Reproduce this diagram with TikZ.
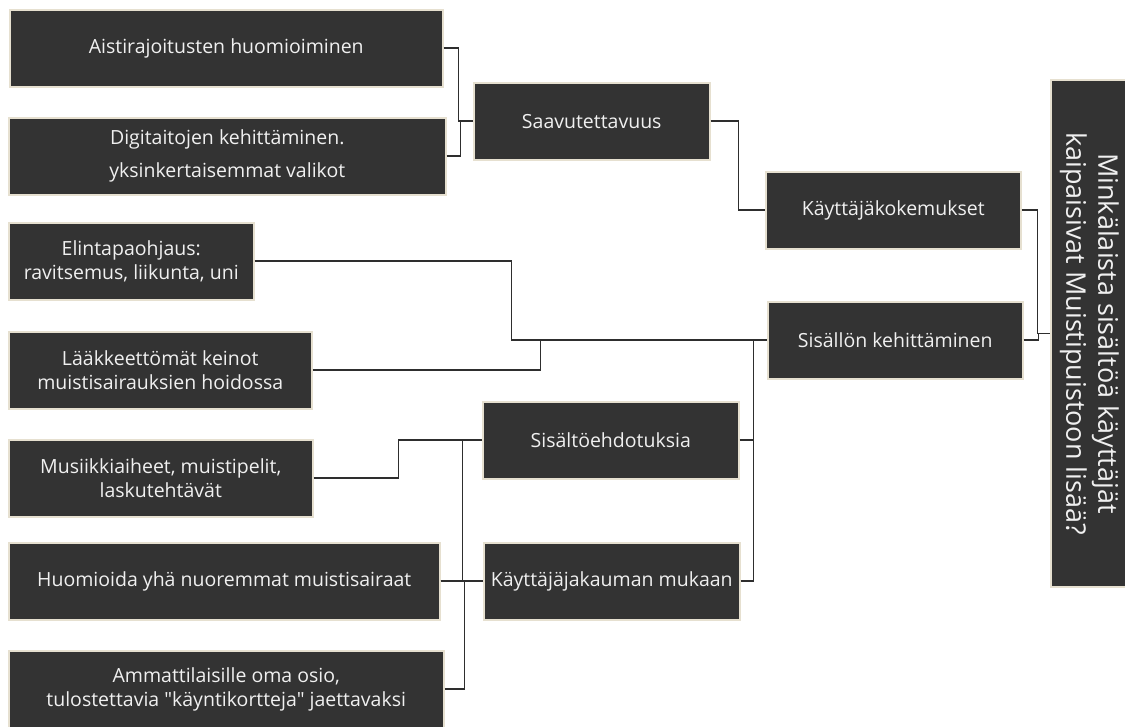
\documentclass[tikz,border=0pt]{standalone}
\usepackage{fontspec}
\setmainfont{Open Sans}[Ligatures={NoCommon,TeXOff}]
\usetikzlibrary{calc}
\definecolor{boxgrey}{HTML}{333333}
\definecolor{rimbeige}{HTML}{E6E0D0}
\definecolor{wirecol}{HTML}{2E2E2E}
\newcommand\elbow[3]{% a, b, offset
  \draw (#1) -- ++(#3,0) |- (#2);
}

\begin{document}
\begin{tikzpicture}[x=1pt,y=-1pt]
		\tikzstyle{every path}=[line width=1.8pt,color=wirecol]
		\tikzstyle{boxsty}=[draw=rimbeige,fill=boxgrey,text=white!94!black,
								  line width=1.5pt,
								  minimum height=77pt,
								  inner sep=0pt,
								  align=center,
								  anchor=north west,
								  font=\fontsize{19.5}{24}\selectfont]

\useasboundingbox (0,0) rectangle (1125,726);

% left column
\node[boxsty,minimum width=433pt] at (9,9) (aisti) {Aistirajoitusten huomioiminen};
\node[boxsty,minimum width=437pt] at (8,117) (digi) {Digitaitojen kehittäminen.\\[9pt]yksinkertaisemmat valikot};
\node[boxsty,minimum width=245pt] at (8,222) (elin) {Elintapaohjaus:\\ravitsemus, liikunta, uni};
\node[boxsty,minimum width=303pt] at (8,331) (laak) {Lääkkeettömät keinot\\muistisairauksien hoidossa};
\node[boxsty,minimum width=304pt] at (8,439) (musa) {Musiikkiaiheet, muistipelit,\\laskutehtävät};
\node[boxsty,minimum width=431pt] at (8,542) (nuor) {Huomioida yhä nuoremmat muistisairaat};
\node[boxsty,minimum width=435pt] at (8,650) (ammat) {Ammattilaisille oma osio,\\tulostettavia "käyntikortteja" jaettavaksi};

% middle
\node[boxsty,minimum width=236pt] at (473,82) (saav) {Saavutettavuus};
\node[boxsty,minimum width=256pt] at (482,401) (ehdo) {Sisältöehdotuksia};
\node[boxsty,minimum width=256pt] at (483,542) (jaka) {Käyttäjäjakauman mukaan};
\node[boxsty,minimum width=255pt] at (765,171) (koke) {Käyttäjäkokemukset};
\node[boxsty,minimum width=255pt] at (767,301) (sisa) {Sisällön kehittäminen};

% question
\node[boxsty,anchor=center,rotate=-90,minimum width=507pt,
      font=\fontsize{27}{32}\selectfont] at (1089.5,333.5) (kysy)
      {Minkälaista sisältöä käyttäjät\\kaipaisivat Muistipuistoon lisää?};

\elbow{aisti.east}{saav.west}{15}
\elbow{digi.east}{saav.west}{14}
\elbow{saav.east}{koke.west}{28}
\elbow{elin.east}{sisa.west}{257}
\elbow{laak.east}{sisa.west}{228}
\elbow{musa.east}{ehdo.west}{85}
\elbow{nuor.east}{ehdo.west}{22}
\draw (nuor.east) -- (jaka.west);
\elbow{ammat.east}{jaka.west}{20}
\elbow{ehdo.east}{sisa.west}{14}
\elbow{jaka.east}{sisa.west}{13}
\elbow{koke.east}{kysy.south}{16}
\elbow{sisa.east}{kysy.south}{15}

\end{tikzpicture}
\end{document}
